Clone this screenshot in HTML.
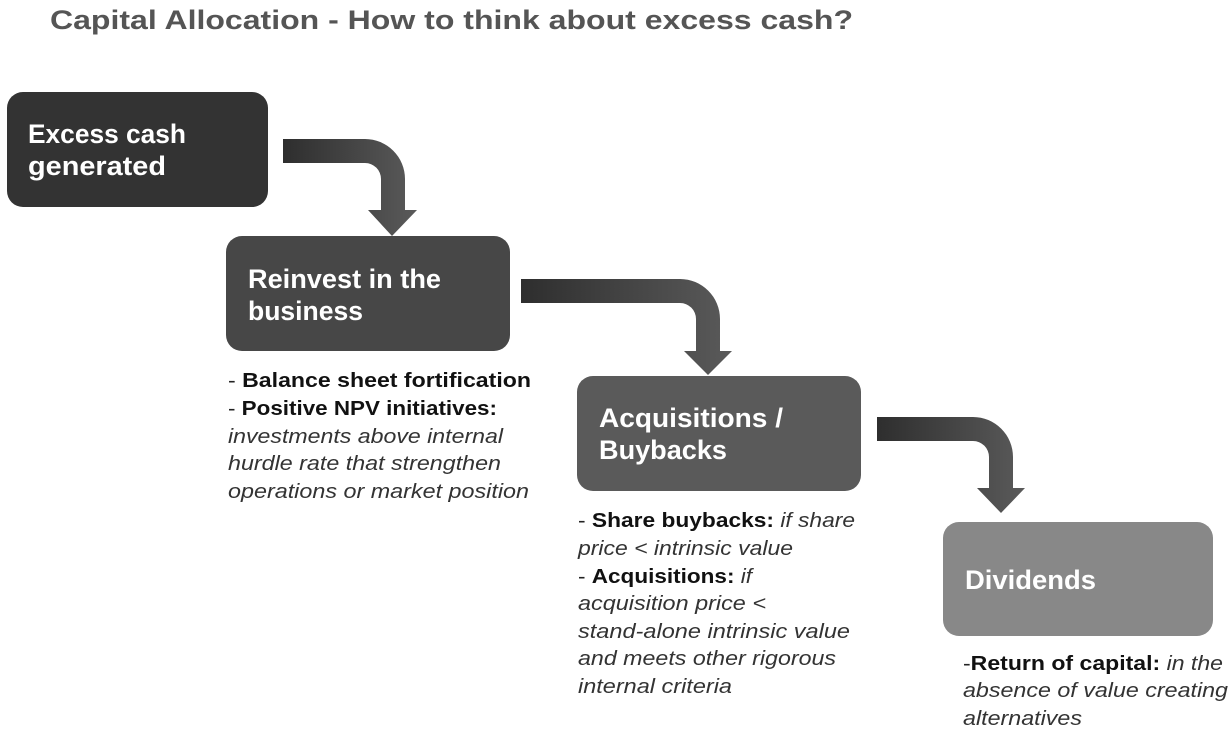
<!DOCTYPE html>
<html><head><meta charset="utf-8"><style>
html,body{margin:0;padding:0;background:#fff;}
svg{display:block;}
text{font-family:"Liberation Sans",sans-serif;dominant-baseline:central;}
.t{font-weight:bold;fill:#fff;font-size:27px;}
.n{font-size:20px;fill:#222;}
.b{font-weight:bold;fill:#111;}
.i{font-style:italic;fill:#333;}
</style></head><body>
<svg width="1232" height="734" viewBox="0 0 1232 734" xmlns="http://www.w3.org/2000/svg">
<defs>
<linearGradient id="g" x1="0" y1="0" x2="1" y2="0">
<stop offset="0" stop-color="#2e2e2e"/><stop offset="1" stop-color="#5a5a5a"/>
</linearGradient>
</defs>
<text x="50" y="20" textLength="803" lengthAdjust="spacingAndGlyphs" style="font-weight:bold;font-size:27px;fill:#555">Capital Allocation - How to think about excess cash?</text>

<rect x="7" y="92" width="261" height="115" rx="16" fill="#333"/>
<rect x="226" y="236" width="284" height="115" rx="16" fill="#474747"/>
<rect x="577" y="376" width="284" height="115" rx="16" fill="#5a5a5a"/>
<rect x="943" y="522" width="270" height="114" rx="16" fill="#888"/>

<path fill="url(#g)" d="M283,139 H365 A40,40 0 0 1 405,179 V210 H417 L392,236 L368,210 H381 V179 A16,16 0 0 0 365,163 H283 Z"/>
<path fill="url(#g)" d="M521,279 H680 A40,40 0 0 1 720,319 V351 H732 L708,375 L684,351 H696 V319 A16,16 0 0 0 680,303 H521 Z"/>
<path fill="url(#g)" d="M877,417 H973 A40,40 0 0 1 1013,457 V488 H1025 L1001,513 L977,488 H989 V457 A16,16 0 0 0 973,441 H877 Z"/>

<text class="t" x="28" y="134" textLength="158" lengthAdjust="spacingAndGlyphs">Excess cash</text>
<text class="t" x="28" y="166" textLength="138" lengthAdjust="spacingAndGlyphs">generated</text>
<text class="t" x="248" y="279" textLength="193" lengthAdjust="spacingAndGlyphs">Reinvest in the</text>
<text class="t" x="248" y="311" textLength="115" lengthAdjust="spacingAndGlyphs">business</text>
<text class="t" x="599" y="418" textLength="184" lengthAdjust="spacingAndGlyphs">Acquisitions /</text>
<text class="t" x="599" y="450" textLength="128" lengthAdjust="spacingAndGlyphs">Buybacks</text>
<text class="t" x="965" y="580" textLength="131" lengthAdjust="spacingAndGlyphs">Dividends</text>

<g class="n">
<text x="228" y="381" textLength="303" lengthAdjust="spacingAndGlyphs">- <tspan class="b">Balance sheet fortification</tspan></text>
<text x="228" y="409" textLength="269" lengthAdjust="spacingAndGlyphs">- <tspan class="b">Positive NPV initiatives:</tspan></text>
<text x="228" y="437" class="i" textLength="275" lengthAdjust="spacingAndGlyphs">investments above internal</text>
<text x="228" y="464" class="i" textLength="273" lengthAdjust="spacingAndGlyphs">hurdle rate that strengthen</text>
<text x="228" y="492" class="i" textLength="301" lengthAdjust="spacingAndGlyphs">operations or market position</text>

<text x="578" y="521" textLength="277" lengthAdjust="spacingAndGlyphs">- <tspan class="b">Share buybacks:</tspan> <tspan class="i">if share</tspan></text>
<text x="578" y="549" class="i" textLength="215" lengthAdjust="spacingAndGlyphs">price &lt; intrinsic value</text>
<text x="578" y="577" textLength="174" lengthAdjust="spacingAndGlyphs">- <tspan class="b">Acquisitions:</tspan> <tspan class="i">if</tspan></text>
<text x="578" y="604" class="i" textLength="188" lengthAdjust="spacingAndGlyphs">acquisition price &lt;</text>
<text x="578" y="632" class="i" textLength="272" lengthAdjust="spacingAndGlyphs">stand-alone intrinsic value</text>
<text x="578" y="659" class="i" textLength="258" lengthAdjust="spacingAndGlyphs">and meets other rigorous</text>
<text x="578" y="687" class="i" textLength="154" lengthAdjust="spacingAndGlyphs">internal criteria</text>

<text x="963" y="664" textLength="260" lengthAdjust="spacingAndGlyphs">-<tspan class="b">Return of capital:</tspan> <tspan class="i">in the</tspan></text>
<text x="963" y="691" class="i" textLength="265" lengthAdjust="spacingAndGlyphs">absence of value creating</text>
<text x="963" y="719" class="i" textLength="119" lengthAdjust="spacingAndGlyphs">alternatives</text>
</g>
</svg>
</body></html>
